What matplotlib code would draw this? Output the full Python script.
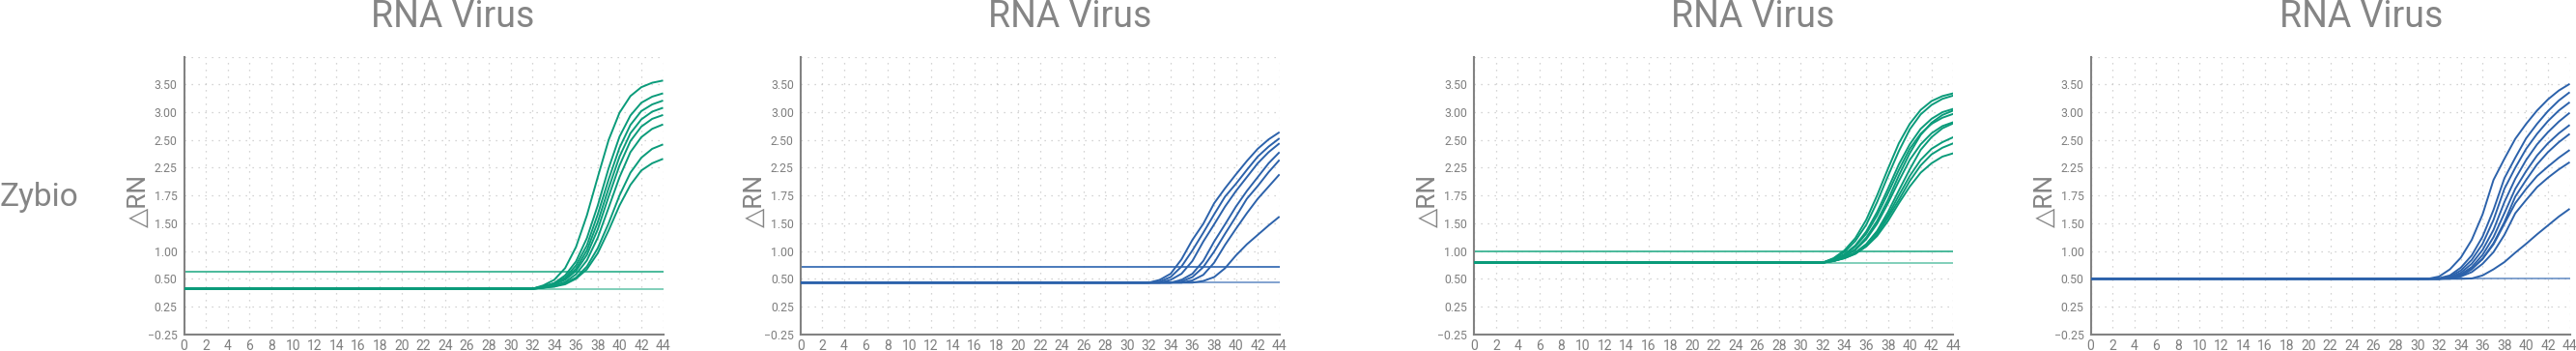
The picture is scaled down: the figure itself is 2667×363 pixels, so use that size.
# qPCR amplification curves, four panels side by side

import numpy as np
import matplotlib.pyplot as plt

plt.rcParams['font.family'] = ['Roboto', 'DejaVu Sans']

# ---- data ----
row_label = 'Zybio'
panel_title = 'RNA Virus'
y_title = '\u25b3RN'

# the y axis of the original has evenly spaced rows but uneven labels
y_ticks = [-0.25, 0.25, 0.50, 1.00, 1.50, 1.75, 2.25, 2.50, 3.00, 3.50]
y_labels = ['\u22120.25', '0.25', '0.50', '1.00', '1.50', '1.75', '2.25', '2.50', '3.00', '3.50']
y_top = 4.00
x_ticks = list(range(0, 45, 2))
cycles = np.arange(0, 45)

# panel 1 (green) - curves listed from cycle 32 to 44
p1_base = 0.41
p1_threshold = 0.63
p1_start = 32
p1_curves = [
    [0.41, 0.44, 0.49, 0.69, 1.07, 1.57, 2.08, 2.50, 2.99, 3.29, 3.45, 3.53, 3.57],
    [0.41, 0.43, 0.46, 0.56, 0.81, 1.23, 1.66, 2.24, 2.56, 2.94, 3.17, 3.28, 3.34],
    [0.41, 0.43, 0.46, 0.52, 0.74, 1.10, 1.58, 2.04, 2.43, 2.77, 3.02, 3.14, 3.21],
    [0.41, 0.43, 0.45, 0.50, 0.68, 1.01, 1.51, 1.88, 2.35, 2.62, 2.87, 3.01, 3.08],
    [0.41, 0.42, 0.45, 0.49, 0.64, 0.93, 1.39, 1.74, 2.27, 2.49, 2.74, 2.88, 2.95],
    [0.41, 0.42, 0.44, 0.47, 0.58, 0.83, 1.24, 1.64, 2.08, 2.39, 2.55, 2.70, 2.78],
    [0.41, 0.42, 0.43, 0.46, 0.52, 0.72, 1.05, 1.50, 1.75, 2.16, 2.34, 2.42, 2.46],
    [0.41, 0.42, 0.43, 0.45, 0.50, 0.67, 0.96, 1.37, 1.66, 1.94, 2.20, 2.29, 2.33],
]

# panel 2 (blue) - from cycle 32
p2_base = 0.465
p2_threshold = 0.72
p2_start = 32
p2_curves = [
    [0.465, 0.49, 0.59, 0.85, 1.20, 1.49, 1.68, 1.88, 2.13, 2.31, 2.42, 2.51, 2.64],
    [0.465, 0.475, 0.53, 0.72, 1.01, 1.33, 1.58, 1.74, 1.96, 2.21, 2.35, 2.44, 2.53],
    [0.465, 0.465, 0.49, 0.59, 0.82, 1.17, 1.48, 1.65, 1.83, 2.08, 2.29, 2.39, 2.47],
    [0.465, 0.465, 0.465, 0.49, 0.59, 0.82, 1.17, 1.48, 1.65, 1.83, 2.08, 2.29, 2.39],
    [0.465, 0.465, 0.465, 0.475, 0.53, 0.71, 0.99, 1.31, 1.56, 1.72, 1.92, 2.17, 2.32],
    [0.465, 0.465, 0.465, 0.465, 0.485, 0.57, 0.79, 1.11, 1.40, 1.59, 1.72, 1.91, 2.13],
    [0.465, 0.465, 0.465, 0.465, 0.465, 0.48, 0.53, 0.69, 0.92, 1.12, 1.29, 1.46, 1.56],
]

# panel 3 (green) - from cycle 32
p3_base = 0.79
p3_threshold = 1.00
p3_start = 32
p3_curves = [
    [0.79, 0.87, 1.01, 1.23, 1.53, 1.75, 2.23, 2.47, 2.79, 3.04, 3.20, 3.29, 3.34],
    [0.79, 0.86, 0.98, 1.18, 1.47, 1.69, 2.10, 2.40, 2.69, 2.96, 3.13, 3.24, 3.30],
    [0.79, 0.85, 0.94, 1.10, 1.35, 1.60, 1.87, 2.28, 2.46, 2.70, 2.88, 3.00, 3.06],
    [0.79, 0.83, 0.91, 1.03, 1.24, 1.52, 1.71, 2.11, 2.38, 2.59, 2.81, 2.95, 3.03],
    [0.79, 0.84, 0.93, 1.08, 1.31, 1.57, 1.79, 2.21, 2.42, 2.61, 2.79, 2.90, 2.97],
    [0.79, 0.83, 0.90, 1.02, 1.21, 1.49, 1.68, 2.01, 2.32, 2.46, 2.62, 2.75, 2.82],
    [0.79, 0.82, 0.88, 0.97, 1.12, 1.36, 1.60, 1.84, 2.22, 2.41, 2.55, 2.71, 2.80],
    [0.79, 0.82, 0.88, 0.97, 1.12, 1.34, 1.57, 1.75, 2.10, 2.32, 2.42, 2.48, 2.55],
    [0.79, 0.82, 0.87, 0.95, 1.09, 1.30, 1.55, 1.71, 2.01, 2.27, 2.37, 2.43, 2.47],
    [0.79, 0.82, 0.87, 0.95, 1.08, 1.27, 1.52, 1.68, 1.91, 2.16, 2.29, 2.35, 2.38],
]

# panel 4 (blue) - from cycle 31, no separate threshold line
p4_base = 0.50
p4_threshold = None
p4_start = 31
p4_curves = [
    [0.50, 0.54, 0.67, 0.88, 1.20, 1.58, 2.03, 2.33, 2.52, 2.79, 3.03, 3.23, 3.39, 3.51],
    [0.50, 0.51, 0.56, 0.70, 0.92, 1.26, 1.62, 2.06, 2.34, 2.53, 2.79, 3.02, 3.21, 3.36],
    [0.50, 0.50, 0.54, 0.65, 0.84, 1.13, 1.53, 1.87, 2.25, 2.42, 2.61, 2.84, 3.03, 3.18],
    [0.50, 0.50, 0.52, 0.61, 0.77, 1.02, 1.38, 1.69, 2.05, 2.32, 2.46, 2.64, 2.83, 2.99],
    [0.50, 0.50, 0.52, 0.58, 0.71, 0.93, 1.25, 1.59, 1.87, 2.19, 2.36, 2.47, 2.62, 2.77],
    [0.50, 0.50, 0.51, 0.55, 0.67, 0.86, 1.14, 1.51, 1.74, 2.03, 2.28, 2.39, 2.48, 2.61],
    [0.50, 0.50, 0.51, 0.57, 0.68, 0.86, 1.12, 1.49, 1.68, 1.87, 2.10, 2.26, 2.34, 2.41],
    [0.50, 0.50, 0.50, 0.54, 0.62, 0.77, 0.98, 1.29, 1.59, 1.71, 1.90, 2.07, 2.22, 2.30],
    [0.50, 0.50, 0.50, 0.50, 0.505, 0.56, 0.67, 0.80, 0.97, 1.13, 1.30, 1.46, 1.56, 1.63],
]

green = '#0a9b7a'
green_light = '#3cb493'
blue = '#2c62ab'
blue_light = '#3b6fb5'
grey_text = '#7e7e7e'
grey_big = '#858585'
grey_axis = '#828282'

panels = [
    (p1_base, p1_threshold, p1_start, p1_curves, green, green_light),
    (p2_base, p2_threshold, p2_start, p2_curves, blue, blue_light),
    (p3_base, p3_threshold, p3_start, p3_curves, green, green_light),
    (p4_base, p4_threshold, p4_start, p4_curves, blue, blue_light),
]

# piecewise scale: every labelled row gets the same height
grid_vals = y_ticks + [y_top]
rows = np.arange(len(grid_vals))


def forward(v):
    return np.interp(v, grid_vals, rows)


def inverse(r):
    return np.interp(r, rows, grid_vals)


W, H = 2667, 363
fig = plt.figure(figsize=(W / 100, H / 100), dpi=100)

lefts = [190.5, 828.7, 1526.3, 2164.5]  # px
title_x = [0.56, 0.562, 0.582, 0.565]
ax_w, ax_h, ax_b = 496, 287.1, 17.3

for i, (base, thr, start, curves, col, col_light) in enumerate(panels):
    ax = fig.add_axes([lefts[i] / W, ax_b / H, ax_w / W, ax_h / H])
    ax.set_yscale('function', functions=(forward, inverse))
    ax.set_xlim(0, 44)
    ax.set_ylim(y_ticks[0], y_top)

    ax.set_yticks(grid_vals)
    ax.set_yticklabels(y_labels + [''])
    ax.set_xticks(x_ticks)
    ax.set_xticklabels([str(t) for t in x_ticks])
    ax.tick_params(axis='both', length=0, labelcolor=grey_text)
    ax.tick_params(axis='y', pad=5.0, labelsize=8.8)
    ax.tick_params(axis='x', pad=3.6, labelsize=10)

    ax.grid(True, color='#c6c6c6', linestyle=(0, (1, 4.6)), linewidth=0.9)
    ax.set_axisbelow(True)
    for s in ['top', 'right']:
        ax.spines[s].set_visible(False)
    for s in ['left', 'bottom']:
        ax.spines[s].set_color(grey_axis)
        ax.spines[s].set_linewidth(1.5)

    # flat negative sample and threshold
    ax.plot(cycles, np.full(len(cycles), base), color=col_light, lw=1.2, alpha=0.75, zorder=2)
    if thr is not None:
        ax.plot(cycles, np.full(len(cycles), thr), color=col_light, lw=1.3, zorder=2)

    for c in curves:
        y = np.concatenate([np.full(start, base), c])
        ax.plot(cycles[:len(y)], y, color=col, lw=1.4, zorder=3, solid_capstyle='butt')

    ax.text(title_x[i], 1.107, panel_title, transform=ax.transAxes, ha='center', va='baseline',
            fontsize=27, color=grey_big)
    ax.text(-0.095, 0.48, y_title, transform=ax.transAxes, rotation=90, ha='center', va='center',
            fontsize=19, color=grey_big)

fig.text(0.0, 150 / H, row_label, ha='left', va='baseline', fontsize=24, color=grey_big)

fig.savefig('out.png', dpi=100)
